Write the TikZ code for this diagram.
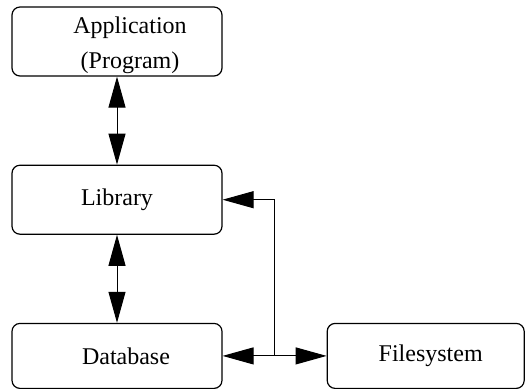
\documentclass[tikz,border=0pt]{standalone}
\usepackage{fontspec}
\setmainfont{Liberation Serif}
\usetikzlibrary{positioning, arrows.meta}

\begin{document}
\begin{tikzpicture}[node distance=44pt and 52pt,line width=0.5pt,>={Triangle[length=15.5pt,width=8.5pt]}]
\tikzset{box/.style={draw,line width=0.6pt,rounded corners=4pt,align=center,minimum width=105pt,minimum height=34.5pt,font=\fontsize{12}{14}\selectfont}}
\useasboundingbox (0,0) rectangle (262.5pt,-194pt);
\node[box,inner ysep=0pt] (app) at (58.5pt,-20.75pt) {\rule{0pt}{13pt}\hspace*{13pt}Application\\[3.5pt]\hspace*{13pt}(Program)\rule[-4pt]{0pt}{0pt}};
\node[box,below=of app] (lib) {Library};
\node[box,below=of lib,minimum height=32.5pt] (db) {\hspace*{9pt}Database};
\node[box,right=of db,minimum width=98.5pt,minimum height=32.5pt] (fs) {\hspace*{5pt}Filesystem};
\path (db) -- coordinate (split) (fs);

\draw[<->] (app) -- (lib);
\draw[<->] (lib) -- (db);
\draw[<->] (db) -- (fs);
\draw[->] (split) |- (lib);
\end{tikzpicture}
\end{document}
